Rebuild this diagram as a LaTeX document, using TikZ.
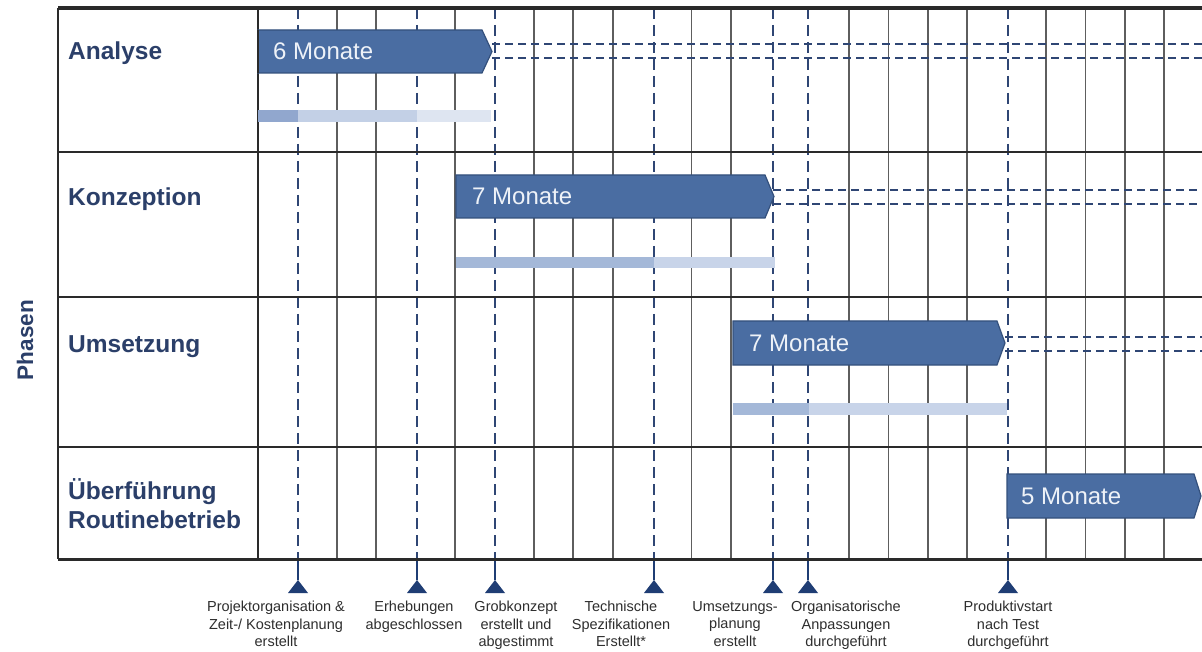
\documentclass[tikz,border=0pt]{standalone}
\usepackage{fontspec}
\setmainfont{Liberation Sans}
\definecolor{navy}{HTML}{2B3F69}
\definecolor{barblue}{HTML}{4A6DA2}
\definecolor{baredge}{HTML}{34507C}
\definecolor{msblue}{HTML}{1F3D74}
\definecolor{dashblue}{HTML}{2F4674}
\definecolor{gridgray}{HTML}{5E5E5E}
\definecolor{rulec}{HTML}{2A2A2A}
\definecolor{progA}{HTML}{91A7CE}
\definecolor{progB}{HTML}{C3D0E6}
\definecolor{progC}{HTML}{DEE5F1}
\definecolor{progD}{HTML}{A4B8D8}
\definecolor{progE}{HTML}{C8D4E9}
\definecolor{labelgray}{HTML}{2E2E2E}
\definecolor{bartextc}{HTML}{EEF2F8}
\begin{document}
\begin{tikzpicture}[x=1pt,y=-1pt,
  phase/.style={anchor=base west, font=\fontsize{24.5}{29}\bfseries\selectfont, text=navy, align=left, inner sep=0pt},
  bartext/.style={anchor=west, font=\fontsize{24}{28}\selectfont, text=bartextc, inner sep=0pt},
  mslabel/.style={anchor=north, align=center, font=\fontsize{14.5}{17.5}\selectfont, text=labelgray, inner sep=0pt},
  gridline/.style={draw=gridgray, line width=1.8pt},
  rowline/.style={draw=rulec, line width=2.4pt},
  msline/.style={draw=dashblue, line width=2.8pt, dash pattern=on 11pt off 6pt},
  msstem/.style={draw=msblue, line width=2.6pt},
  dashcont/.style={draw=dashblue, line width=2.6pt, dash pattern=on 8pt off 5pt},
  barshape/.style={fill=barblue, draw=baredge, line width=1.2pt},
]
\useasboundingbox (0,0) rectangle (1202,652);
\fill[white] (0,0) rectangle (1202,652);

% vertical grid lines
\foreach \k in {2,3,5,7,8,9,11,12,15,16,17,18,20,21,22,23}
  \draw[gridline] ({258+39.4*\k},8) -- ({258+39.4*\k},559);

% milestone dashed lines
\foreach \n/\x in {m1/298,m2/417,m3/495,m4/654,m5/773,m6/808,m7/1008}{
  \coordinate (\n top) at (\x,8);
  \coordinate (\n bot) at (\x,559);
  \coordinate (\n) at (\x,580);
  \draw[msline] (\n top) -- (\n bot);
  \draw[msstem] (\n bot) -- (\n);
  \fill[msblue] (\n) -- ++(-10,13) -- ++(20,0) -- cycle;
}

% frame and row lines
\draw[rowline] (58,152) -- (1202,152);
\draw[rowline] (58,297) -- (1202,297);
\draw[rowline] (58,447) -- (1202,447);
\draw[rulec, line width=3pt] (58,559) -- (1202,559);
\draw[rulec, line width=3.4pt] (58,8) -- (1202,8);
\draw[rulec, line width=2.2pt] (58,8) -- (58,559);
\draw[rulec, line width=2.2pt] (258,8) -- (258,559);

% progress bars
\fill[progA] (258,110) rectangle (298,122);
\fill[progB] (298,110) rectangle (417,122);
\fill[progC] (417,110) rectangle (491,122);
\fill[progD] (456,257) rectangle (654,268);
\fill[progE] (654,257) rectangle (775,268);
\fill[progD] (733,403) rectangle (809,415);
\fill[progE] (809,403) rectangle (1007,415);

% continuation dashed lines
\coordinate (aU0) at (492,44); \coordinate (aU1) at (1202,44);
\coordinate (aL0) at (492,58); \coordinate (aL1) at (1202,58);
\coordinate (kU0) at (773,190); \coordinate (kU1) at (1202,190);
\coordinate (kL0) at (773,204); \coordinate (kL1) at (1202,204);
\coordinate (uU0) at (1005,337); \coordinate (uU1) at (1202,337);
\coordinate (uL0) at (1005,351); \coordinate (uL1) at (1202,351);
\draw[dashcont] (aU0) -- (aU1);
\draw[dashcont] (aL0) -- (aL1);
\draw[dashcont] (kU0) -- (kU1);
\draw[dashcont] (kL0) -- (kL1);
\draw[dashcont] (uU0) -- (uU1);
\draw[dashcont] (uL0) -- (uL1);

% phase bars
\draw[barshape] (258,30) -- (482,30) -- (492,51.5) -- (482,73) -- (258,73) -- cycle;
\draw[barshape] (456,175) -- (765,175) -- (774,196.5) -- (765,218) -- (456,218) -- cycle;
\draw[barshape] (733,321) -- (997,321) -- (1005,343) -- (997,365) -- (733,365) -- cycle;
\draw[barshape] (1007,474) -- (1194,474) -- (1201,496) -- (1194,518) -- (1007,518) -- cycle;
\draw[rulec, line width=2.2pt] (258,30) -- (258,73);

\node[bartext] (barA) at (273,51.5) {6 Monate};
\node[bartext] (barK) at (472,196.5) {7 Monate};
\node[bartext] (barU) at (749,343) {7 Monate};
\node[bartext] (barR) at (1021,496) {5 Monate};

% phase labels
\node[phase] (pA) at (68,60) {Analyse};
\node[phase] (pK) at (68,206) {Konzeption};
\node[phase] (pU) at (68,352.5) {Umsetzung};
\node[phase] (pR1) at (68,499) {Überführung};
\node[phase] (pR2) at (68,528) {Routinebetrieb};
\node[rotate=90, font=\fontsize{22.5}{26}\bfseries\selectfont, text=navy, inner sep=0pt] (phasen) at (25,340) {Phasen};

% milestone labels
\node[mslabel] (l1) at (276,601) {Projektorganisation \&\\Zeit-/ Kostenplanung\\erstellt};
\node[mslabel] (l2) at (414,601) {Erhebungen\\abgeschlossen};
\node[mslabel] (l3) at (516,601) {Grobkonzept\\erstellt und\\abgestimmt};
\node[mslabel] (l4) at (621,601) {Technische\\Spezifikationen\\Erstellt*};
\node[mslabel] (l5) at (735,601) {Umsetzungs-\\planung\\erstellt};
\node[mslabel] (l6) at (846,601) {Organisatorische\\Anpassungen\\durchgeführt};
\node[mslabel] (l7) at (1008,601) {Produktivstart\\nach Test\\durchgeführt};
\end{tikzpicture}
\end{document}
